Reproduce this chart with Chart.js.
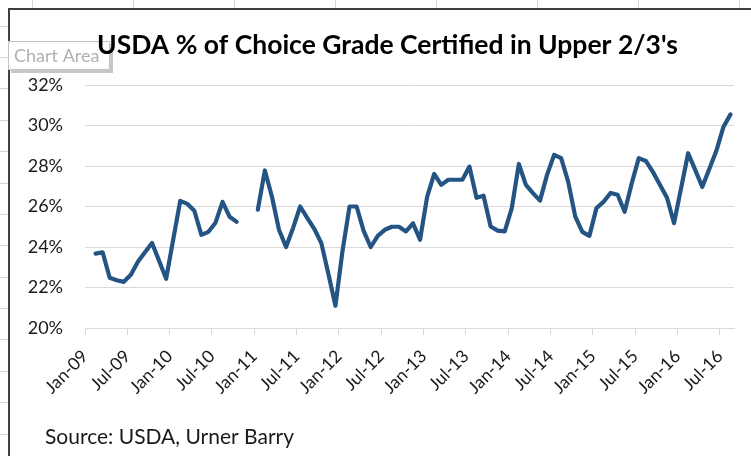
<!DOCTYPE html>
<html>
<head>
<meta charset="utf-8">
<script src="https://cdn.jsdelivr.net/npm/chart.js@4.4.1/dist/chart.umd.min.js"></script>
<style>
  html, body { margin: 0; padding: 0; background: #fff; }
  #wrap { width: 751px; height: 456px; }
</style>
</head>
<body>
<div id="wrap"><canvas id="chart" width="751" height="456"></canvas></div>
<script>
// months Jan-09 .. Aug-16
const monthNames = ["Jan", "Feb", "Mar", "Apr", "May", "Jun", "Jul", "Aug", "Sep", "Oct", "Nov", "Dec"];
const months = [];
for (let yr = 9; yr <= 16; yr++) {
  for (let m = 0; m < 12; m++) {
    if (months.length < 92) months.push(monthNames[m] + "-" + String(yr).padStart(2, "0"));
  }
}

const tickLabels = ["Jan-09", "Jul-09", "Jan-10", "Jul-10", "Jan-11", "Jul-11", "Jan-12", "Jul-12",
  "Jan-13", "Jul-13", "Jan-14", "Jul-14", "Jan-15", "Jul-15", "Jan-16", "Jul-16"];

// % of Choice grade certified in upper 2/3's (null = no data)
const choicePct = [
  null, 23.67, 23.74, 22.48, 22.36, 22.28, 22.63, 23.27, 23.74, 24.2, 23.32, 22.43,   // 2009
  24.36, 26.28, 26.13, 25.79, 24.6, 24.75, 25.2, 26.23, 25.49, 25.24, null, null,     // 2010
  25.84, 27.78, 26.48, 24.85, 24.0, 24.94, 26.0, 25.44, 24.9, 24.19, 22.68, 21.1,      // 2011
  23.8, 26.0, 26.0, 24.8, 24.0, 24.55, 24.85, 25.0, 25.0, 24.77, 25.17, 24.36,         // 2012
  26.48, 27.61, 27.07, 27.32, 27.32, 27.32, 27.97, 26.43, 26.53, 25.01, 24.81, 24.77, // 2013
  25.92, 28.1, 27.07, 26.66, 26.29, 27.56, 28.55, 28.39, 27.22, 25.5, 24.75, 24.55,   // 2014
  25.92, 26.23, 26.67, 26.58, 25.74, 27.14, 28.39, 28.25, 27.71, 27.07, 26.43, 25.18, // 2015
  26.91, 28.63, 27.81, 26.97, 27.85, 28.75, 29.93, 30.55                               // 2016
];

const chartTitle = "USDA % of Choice Grade Certified in Upper 2/3's";
const sourceNote = "Source: USDA, Urner Barry";

const tickIdx = tickLabels.map(l => months.indexOf(l));

const textColor = "#1a1a1a";
const gridColor = "#d9d9d9";

const frame = {
  id: "frame",
  beforeDraw(chart) {
    const ctx = chart.ctx;
    ctx.save();
    ctx.fillStyle = "#fff";
    ctx.fillRect(0, 0, chart.width, chart.height);

    // worksheet cell lines peeking out around the chart
    ctx.strokeStyle = "#d6d6d6";
    ctx.lineWidth = 1;
    for (let x = 32.5; x < chart.width; x += 101) {
      ctx.beginPath(); ctx.moveTo(x, 0); ctx.lineTo(x, 8); ctx.stroke();
    }
    for (let y = 25.5; y < chart.height; y += 31.4) {
      ctx.beginPath(); ctx.moveTo(0, Math.round(y) + 0.5); ctx.lineTo(8, Math.round(y) + 0.5); ctx.stroke();
    }

    // chart area border
    ctx.strokeStyle = "#404040";
    ctx.lineWidth = 2;
    ctx.beginPath();
    ctx.moveTo(9, chart.height);
    ctx.lineTo(9, 9);
    ctx.lineTo(chart.width, 9);
    ctx.stroke();

    // "Chart Area" hover label
    ctx.fillStyle = "rgba(0,0,0,0.22)";
    ctx.fillRect(11, 44, 102, 29);
    ctx.fillStyle = "#fff";
    ctx.fillRect(8, 41, 102, 29);
    ctx.strokeStyle = "#c4c4c4";
    ctx.lineWidth = 1;
    ctx.strokeRect(8.5, 41.5, 101, 28);
    ctx.fillStyle = "#b0b0b0";
    ctx.font = "18px Lato";
    ctx.textBaseline = "middle";
    ctx.fillText("Chart Area", 14, 56);

    // title
    ctx.fillStyle = "#000";
    ctx.font = "bold 26.5px Lato";
    ctx.textAlign = "center";
    ctx.textBaseline = "alphabetic";
    ctx.fillText(chartTitle, 387.5, 54);
    ctx.restore();
  },
  afterDraw(chart) {
    const ctx = chart.ctx;
    ctx.save();
    ctx.fillStyle = textColor;
    ctx.font = "21px Lato";
    ctx.textBaseline = "alphabetic";
    ctx.fillText(sourceNote, 45, 444);
    ctx.restore();
  }
};

new Chart(document.getElementById("chart"), {
  type: "line",
  data: {
    datasets: [{
      label: chartTitle,
      data: choicePct.map((v, i) => ({ x: i, y: v })),
      borderColor: "#245483",
      borderWidth: 4.2,
      borderJoinStyle: "round",
      borderCapStyle: "round",
      pointRadius: 0,
      tension: 0,
      spanGaps: false,
    }],
  },
  options: {
    responsive: false,
    animation: false,
    devicePixelRatio: 1,
    layout: { padding: { left: 0, right: 17, top: 85, bottom: 0 } },
    plugins: {
      legend: { display: false },
      tooltip: { enabled: false },
      title: { display: false },
    },
    scales: {
      x: {
        type: "linear",
        min: -0.5,
        max: months.length - 0.5,
        afterBuildTicks: (s) => { s.ticks = tickIdx.map(i => ({ value: i - 0.5 })); },
        afterFit: (s) => { s.height = 128; },
        ticks: {
          autoSkip: false,
          minRotation: 45,
          maxRotation: 45,
          padding: 11,
          color: textColor,
          font: { family: "Lato", size: 17.5 },
          callback: (v, i) => tickLabels[i],
        },
        grid: { drawOnChartArea: false, drawTicks: true, tickLength: 7, color: gridColor },
        border: { display: true, color: gridColor },
      },
      y: {
        min: 20,
        max: 32,
        afterFit: (s) => { s.width = 85; },
        ticks: {
          stepSize: 2,
          padding: 22,
          color: textColor,
          font: { family: "Lato", size: 18 },
          callback: (v) => v + "%",
        },
        grid: { color: gridColor, drawTicks: false },
        border: { display: false },
      },
    },
  },
  plugins: [frame],
});
</script>
</body>
</html>
